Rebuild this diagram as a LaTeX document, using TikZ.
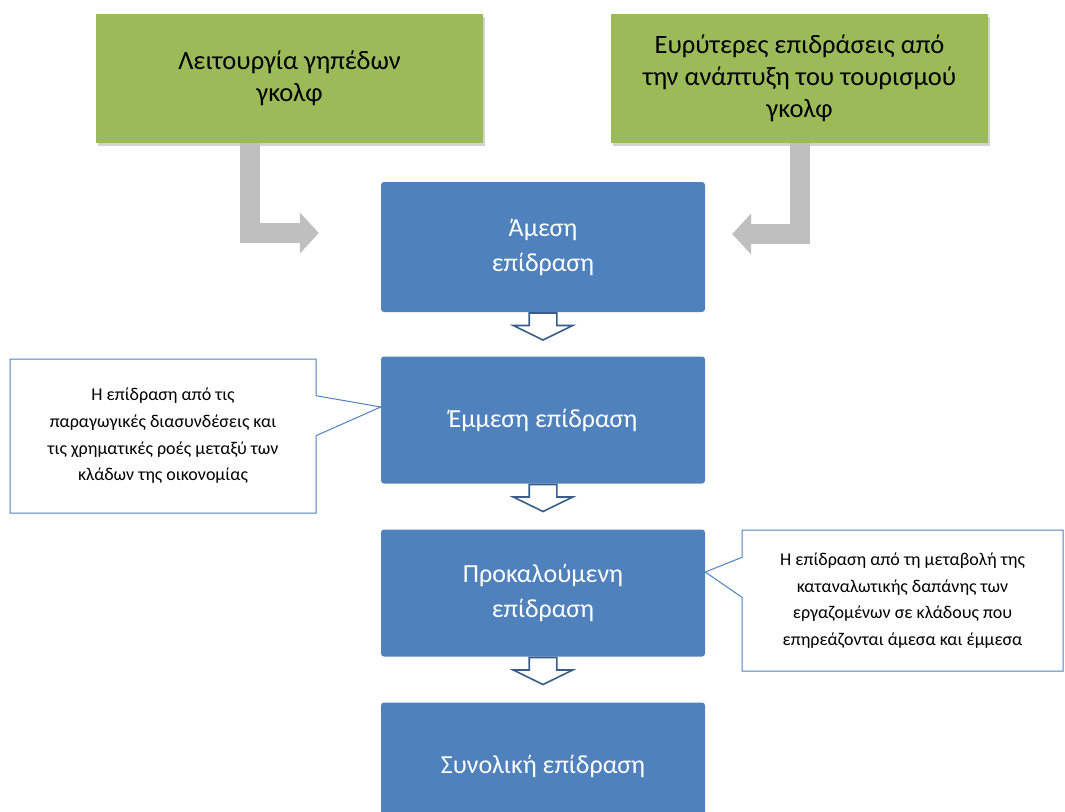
\documentclass[tikz,border=0pt]{standalone}
\usepackage{fontspec}
\setmainfont{Carlito}
\usetikzlibrary{positioning,shapes.arrows,shapes.callouts,arrows.meta,shadows}
\definecolor{golfgreen}{HTML}{9BBB59}
\definecolor{effblue}{HTML}{4F81BD}
\definecolor{effline}{HTML}{385D8A}
\definecolor{flowgray}{HTML}{BFBFBF}
\tikzset{source/.style={fill=golfgreen, minimum height=129pt, align=center,
    font=\fontsize{26.5}{32.3}\selectfont,
    drop shadow={shadow xshift=1.5pt, shadow yshift=-2.5pt, opacity=.35}},
  effect/.style={fill=effblue, rounded corners=3pt, minimum width=324pt,
    minimum height=127pt, align=center, text=white,
    font=\fontsize{26}{35}\selectfont},
  note/.style={rectangle callout, draw=effblue, line width=1pt, fill=white, align=center,
    callout pointer width=40pt, font=\fontsize{18}{26.6}\selectfont},
  flow/.style={draw=flowgray, line width=20pt, -{Triangle[length=19pt,width=40pt]}},
  down/.style={single arrow, shape border rotate=270, draw=effline, line width=1.6pt,
    fill=white, minimum height=27pt, inner xsep=13pt, inner ysep=0pt,
    single arrow head extend=16pt, single arrow tip angle=128, anchor=tail}
}
\begin{document}
\begin{tikzpicture}[x=1pt, y=-1pt, node distance=173pt, on grid]
  \useasboundingbox (0,0) rectangle (1065,811);
  \node[source, minimum width=387pt] (lgolf)  at (289.5,78.5) {Λειτουργία γηπέδων\\γκολφ};
  \node[source, minimum width=377pt] (ewider) at (799.5,78.5) {Ευρύτερες επιδράσεις από\\την ανάπτυξη του τουρισμού\\γκολφ};

  \node[effect, minimum height=130pt] (amesi) at (543,247) {Άμεση\\επίδραση};
  \node[effect] (emmesi) [below =of amesi]  {Έμμεση επίδραση};
  \node[effect] (prokal) [below =of emmesi] {Προκαλούμενη\\επίδραση};
  \node[effect] (synol)  [below =of prokal] {Συνολική επίδραση};

  \draw[flow] ([xshift=-40pt]lgolf.south) |- ([xshift=-62pt,yshift=14pt]amesi.west);
  \draw[flow] (ewider.south) |- ([xshift=27pt,yshift=13pt]amesi.east);

  \node[down] (d_1) at (amesi.south)  {};
  \node[down] (d_2) at (emmesi.south) {};
  \node[down] (d_3) at (prokal.south) {};

  \node[note, minimum width=306pt, minimum height=154pt,
        callout absolute pointer={([yshift=13pt]emmesi.west)}] (cleft) at (163,436)
       {Η επίδραση από τις\\παραγωγικές διασυνδέσεις και\\τις χρηματικές ροές μεταξύ των\\κλάδων της οικονομίας};
  \node[note, minimum width=321pt, minimum height=141pt,
        callout absolute pointer={([yshift=21pt]prokal.east)}] (cright) at (902.5,600.5)
       {Η επίδραση από τη μεταβολή της\\καταναλωτικής δαπάνης των\\εργαζομένων σε κλάδους που\\επηρεάζονται άμεσα και έμμεσα};
\end{tikzpicture}
\end{document}
